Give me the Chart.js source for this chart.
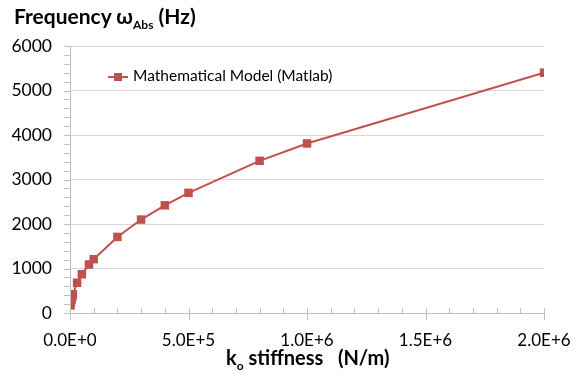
<!DOCTYPE html>
<html>
<head>
<meta charset="utf-8">
<script src="https://cdn.jsdelivr.net/npm/chart.js@4"></script>
<style>
  html, body { margin: 0; padding: 0; background: #fff; }
  #wrap { position: relative; width: 581px; height: 377px; font-family: Lato, "Open Sans", sans-serif; color: #000; }
  #grafico { position: absolute; left: 0; top: 0; }
  .titulo { position: absolute; font-weight: bold; white-space: nowrap; line-height: 1; }
  .titulo sub { font-size: 12px; vertical-align: -5px; line-height: 0; }
  #legenda { position: absolute; left: 108px; top: 66px; font-size: 15.5px; white-space: nowrap; }
  #legenda .linha { position: absolute; left: 0; top: 10px; width: 20px; height: 2px; background: #c0504d; }
  #legenda .marca { position: absolute; left: 6px; top: 7px; width: 8px; height: 8px; background: #c0504d; }
  #legenda .texto { position: absolute; left: 25px; top: 0; }
</style>
</head>
<body>
<div id="wrap">
  <canvas id="grafico" width="581" height="377"></canvas>
  <div class="titulo" style="left:14px; top:5px; font-size:21px;">Frequency ω<sub>Abs</sub> (Hz)</div>
  <div class="titulo" style="left:226px; top:347px; font-size:20px;">k<sub>o</sub> stiffness &nbsp; (N/m)</div>
  <div id="legenda"><span class="linha"></span><span class="marca"></span><span class="texto">Mathematical Model (Matlab)</span></div>
</div>
<script>
// Dados
const rigidez = [2e3, 4e3, 6e3, 8e3, 1e4, 1.2e4, 3e4, 5e4, 8e4, 1e5, 2e5, 3e5, 4e5, 5e5, 8e5, 1e6, 2e6];
const frequencia = [170, 240, 300, 340, 380, 420, 680, 870, 1090, 1210, 1710, 2100, 2420, 2700, 3420, 3810, 5400];
const serieNome = 'Mathematical Model (Matlab)';

const COR = '#c0504d';
const EIXO = '#bfbfbf';
const GRADE = '#d9d9d9';

// Marcas de escala no estilo Excel (maiores cruzando, menores por dentro/fora)
const marcasPlugin = {
    id: 'marcas',
    afterDraw(chart) {
        const { ctx, chartArea, scales } = chart;
        const x = scales.x, y = scales.y;
        ctx.save();
        ctx.strokeStyle = EIXO;
        ctx.lineWidth = 1;
        ctx.beginPath();
        // eixo y
        ctx.moveTo(chartArea.left + 0.5, chartArea.top);
        ctx.lineTo(chartArea.left + 0.5, chartArea.bottom + 6);
        // eixo x
        ctx.moveTo(chartArea.left - 6, chartArea.bottom + 0.5);
        ctx.lineTo(chartArea.right, chartArea.bottom + 0.5);
        // y: maiores (cruzam) e menores (fora)
        for (let v = 0; v <= 6000; v += 200) {
            const py = Math.round(y.getPixelForValue(v)) + 0.5;
            const major = v % 1000 === 0;
            ctx.moveTo(chartArea.left - 6, py);
            ctx.lineTo(chartArea.left + (major ? 1 : 0), py);
        }
        // x: maiores (cruzam) e menores (dentro)
        for (let v = 0; v <= 2e6; v += 1e5) {
            const px = Math.round(x.getPixelForValue(v)) + 0.5;
            const major = v % 5e5 === 0;
            ctx.moveTo(px, chartArea.bottom - 5);
            ctx.lineTo(px, chartArea.bottom + (major ? 7 : 0));
        }
        ctx.stroke();
        ctx.restore();
    }
};

const ctx = document.getElementById('grafico').getContext('2d');
new Chart(ctx, {
    type: 'scatter',
    data: {
        datasets: [{
            label: serieNome,
            data: rigidez.map((k, i) => ({ x: k, y: frequencia[i] })),
            showLine: true,
            borderColor: COR,
            backgroundColor: COR,
            borderWidth: 2,
            pointStyle: 'rect',
            pointRadius: 6,
            pointBorderWidth: 0,
            tension: 0
        }]
    },
    options: {
        responsive: false,
        animation: false,
        layout: { padding: { top: 46, right: 37, left: 0, bottom: 0 } },
        plugins: {
            legend: { display: false },
            tooltip: { enabled: false }
        },
        scales: {
            x: {
                type: 'linear',
                min: 0,
                max: 2e6,
                afterFit: s => { s.height = 64; s.paddingRight = 0; s.paddingLeft = 0; },
                grid: { display: false, drawTicks: false },
                border: { display: false },
                ticks: {
                    stepSize: 5e5,
                    padding: 17,
                    color: '#000',
                    font: { family: 'Lato', size: 17 },
                    callback: v => {
                        const e = v === 0 ? 0 : Math.floor(Math.log10(v));
                        return (v / Math.pow(10, e)).toFixed(1) + 'E+' + e;
                    }
                }
            },
            y: {
                min: 0,
                max: 6000,
                afterFit: s => { s.width = 70; s.paddingTop = 0; s.paddingBottom = 0; },
                grid: { color: GRADE, drawTicks: false },
                border: { display: false },
                ticks: {
                    stepSize: 1000,
                    padding: 18,
                    color: '#000',
                    font: { family: 'Lato', size: 17.5 },
                    callback: v => String(v)
                }
            }
        }
    },
    plugins: [marcasPlugin]
});
</script>
</body>
</html>
